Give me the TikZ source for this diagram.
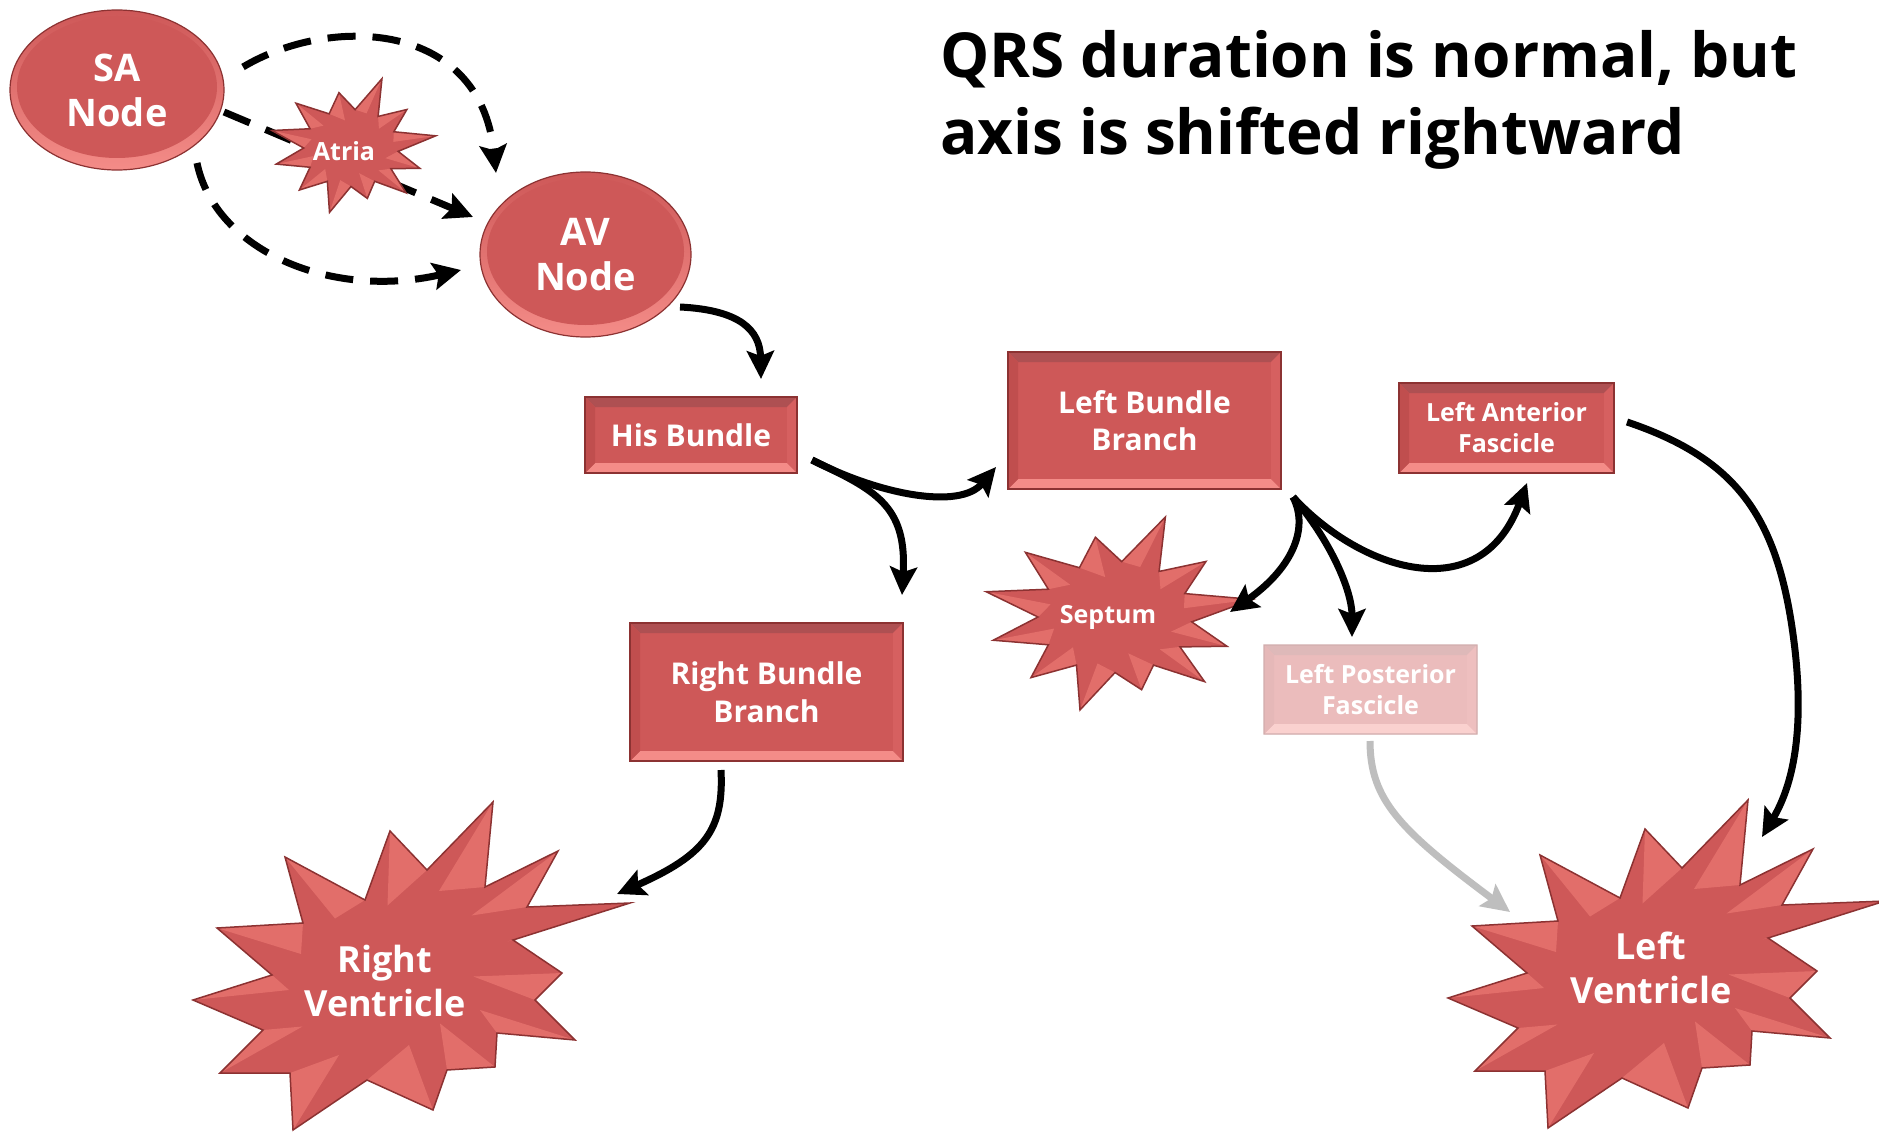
\documentclass[tikz,border=0pt]{standalone}
\usepackage{fontspec}
\setmainfont{Open Sans}
\usetikzlibrary{arrows.meta,calc,shapes.geometric}
\definecolor{base}{RGB}{206,88,88}
\definecolor{topbev}{RGB}{174,80,82}
\definecolor{botbev}{RGB}{244,140,136}
\definecolor{sidebev}{RGB}{192,78,78}
\definecolor{sidebevr}{RGB}{214,96,96}
\definecolor{rim}{RGB}{140,50,50}
\definecolor{facetlt}{RGB}{226,110,106}
\definecolor{graya}{RGB}{190,190,190}
\tikzset{
  fs/.style 2 args={font=\bfseries\fontsize{#1}{#2}\selectfont},
  lbl/.style={text=white, align=center, inner sep=0pt},
  box/.style={rectangle, fill=base, draw=rim, line width=1.2pt, lbl,
    path picture={
      \path (path picture bounding box.south west) coordinate (q1)
            (path picture bounding box.north east) coordinate (q3);
      \fill[topbev] (q1 |- q3) -- (q3) -- ($(q3)+(-10pt,-10pt)$) -- ($(q1 |- q3)+(10pt,-10pt)$) -- cycle;
      \fill[botbev] (q1) -- (q3 |- q1) -- ($(q3 |- q1)+(-10pt,10pt)$) -- ($(q1)+(10pt,10pt)$) -- cycle;
      \fill[sidebev] (q1) -- (q1 |- q3) -- ($(q1 |- q3)+(10pt,-10pt)$) -- ($(q1)+(10pt,10pt)$) -- cycle;
      \fill[sidebevr] (q3 |- q1) -- (q3) -- ($(q3)+(-10pt,-10pt)$) -- ($(q3 |- q1)+(-10pt,10pt)$) -- cycle;
    }},
  oval/.style={ellipse, draw=rim, line width=1.2pt, lbl, top color=base, bottom color=botbev,
    path picture={
      \fill[base] let \p1=($(path picture bounding box.north east)-(path picture bounding box.center)$) in
        ($(path picture bounding box.center)+(0,3pt)$) ellipse [x radius=\x1-7pt, y radius=\y1-9pt];
    }},
  arr/.style={line width=7pt, -{Stealth[length=28pt,width=27pt,inset=5pt]}},
  dsh/.style={arr, dash pattern=on 28pt off 17pt},
  garr/.style={arr, draw=graya, -{Stealth[length=28pt,width=27pt,inset=5pt,fill=graya]}},
}
\newcommand\bigburstlist{-192/20/-113/-5, -168/-52/-82/-57, -100/-123/-20/-80, 5/-149/42/-110, 108/-178/100/-93, 173/-129/142/-73, 245/-77/128/-40, 177/-7/150/20, 190/60/112/53, 110/87/62/90, 48/130/-18/100, -92/150/-95/93, -165/93/-122/50}
\newcommand\smallburstlist{0.985/-0.174/0.498/-0.232, 0.65/-0.55/0.315/-0.451, 0.36/-0.99/0.048/-0.548, -0.14/-0.79/-0.254/-0.488, -0.64/-0.64/-0.476/-0.275, -0.92/-0.25/-0.55/0, -0.87/0.23/-0.476/0.275, -0.60/0.60/-0.275/0.476, -0.25/0.92/0/0.55, 0.19/0.72/0.275/0.476, 0.64/0.64/0.464/0.296, 0.80/0.29/0.548/0.048}
\newcommand\burstshape[3]{%
  \begin{scope}[#1]
    \fill[base] #2 \foreach \tx/\ty/\ix/\iy in #3 {-- (\tx,\ty) -- (\ix,\iy)} -- cycle;
    \foreach \tx/\ty/\ix/\iy in #3 {\fill[facetlt] (\tx,\ty) -- (\ix,\iy) -- ({0.5*\tx},{0.5*\ty}) -- cycle;}
    \draw[rim, line width=1.5pt] #2 \foreach \tx/\ty/\ix/\iy in #3 {-- (\tx,\ty) -- (\ix,\iy)} -- cycle;
  \end{scope}}
\begin{document}
\begin{tikzpicture}[x=1pt,y=-1pt]
\useasboundingbox (0,0) rectangle (1879,1134);
\fill[white] (0,0) rectangle (1879,1134);

% title
\node[anchor=base west, inner sep=0pt, fs={62}{74}] (t1) at (940,78) {QRS duration is normal, but};
\node[anchor=base west, inner sep=0pt, fs={62}{74}] (t2) at (940,155) {axis is shifted rightward};

% ovals
\node[oval, minimum width=214pt, minimum height=160pt, fs={38}{45}] (sa) at (117,90) {SA\\Node};
\node[oval, minimum width=211pt, minimum height=165pt, fs={38}{45}] (av) at (585.5,254.5) {AV\\Node};

% dashed SA -> AV
\draw[dsh] ([shift={(126,-23)}]sa.center) .. controls (330,15) and (480,20) .. ([shift={(-89.5,-81.5)}]av.center);
\draw[dsh] ([shift={(107,22)}]sa.center) -- ([shift={(-112.5,-37.5)}]av.center);
\draw[dsh] ([shift={(80,73)}]sa.center) .. controls (215,250) and (330,300) .. ([shift={(-124.5,15.5)}]av.center);

% Atria burst
\burstshape{shift={(351,148)}, xscale=86, yscale=70}{(0.548,0.048)}{\smallburstlist}
\node[lbl, fs={25}{30}] (atria) at (344,151) {Atria};

% boxes
\node[box, minimum width=212pt, minimum height=76pt, fs={30}{37}] (his) at (691,435) {His Bundle};
\node[box, minimum width=273pt, minimum height=137pt, fs={30}{37}] (lbb) at (1144.5,420.5) {Left Bundle\\Branch};
\node[box, minimum width=215pt, minimum height=90pt, fs={25}{31}] (laf) at (1506.5,428) {Left Anterior\\Fascicle};
\node[box, minimum width=273pt, minimum height=138pt, fs={30}{38}] (rbb) at (766.5,692) {Right Bundle\\Branch};
\begin{scope}[transparency group, opacity=0.4]
\node[box, minimum width=213pt, minimum height=89pt, fs={25}{31}, text opacity=0] (lpfbg) at (1370.5,689.5) {Left Posterior\\Fascicle};
\end{scope}
\node[lbl, fs={25}{31}, text=white] (lpf) at (1370.5,689.5) {Left Posterior\\Fascicle};

% Septum burst
\burstshape{shift={(1115,617)}, xscale=140, yscale=101}{(0.548,0.048)}{\smallburstlist}
\node[lbl, fs={25}{30}] (sep) at (1108,617) {Septum};

% ventricles
\burstshape{shift={(385,980)}}{(-122,50)}{\bigburstlist}
\node[lbl, fs={36}{44}] (rv) at (385,981) {Right\\Ventricle};
\burstshape{shift={(1640,978)}}{(-122,50)}{\bigburstlist}
\node[lbl, fs={36}{44}] (lv) at (1651,968) {Left\\Ventricle};

% solid connectors
\draw[arr] ([shift={(94.5,52.5)}]av.center) .. controls (740,310) and (760,330) .. ([shift={(70,-56)}]his.center);
\draw[arr] ([shift={(121,25)}]his.center) .. controls (880,495) and (960,510) .. ([shift={(-148.5,46.5)}]lbb.center);
\draw[arr] ([shift={(121,25)}]his.center) .. controls (875,490) and (907,505) .. ([shift={(135.5,-97)}]rbb.center);
\draw[arr] ([shift={(148.5,76.5)}]lbb.center) .. controls (1310,530) and (1290,570) .. ([shift={(122,-5)}]sep.center);
\draw[arr] ([shift={(148.5,76.5)}]lbb.center) .. controls (1330,540) and (1352,590) .. ([shift={(-18.5,-52.5)}]lpf.center);
\draw[arr] ([shift={(148.5,76.5)}]lbb.center) .. controls (1360,570) and (1480,610) .. ([shift={(20.5,55)}]laf.center);
\draw[arr] ([shift={(120.5,-6)}]laf.center) .. controls (1740,460) and (1780,520) .. (1795,650) .. controls (1805,740) and (1790,790) .. ([shift={(111,-131)}]lv.center);
\draw[arr] ([shift={(-45.5,78)}]rbb.center) .. controls (724,830) and (705,855) .. ([shift={(232,-87)}]rv.center);
\draw[garr] ([shift={(-0.5,51.5)}]lpf.center) .. controls (1370,800) and (1400,830) .. ([shift={(-141,-56)}]lv.center);
\end{tikzpicture}
\end{document}
